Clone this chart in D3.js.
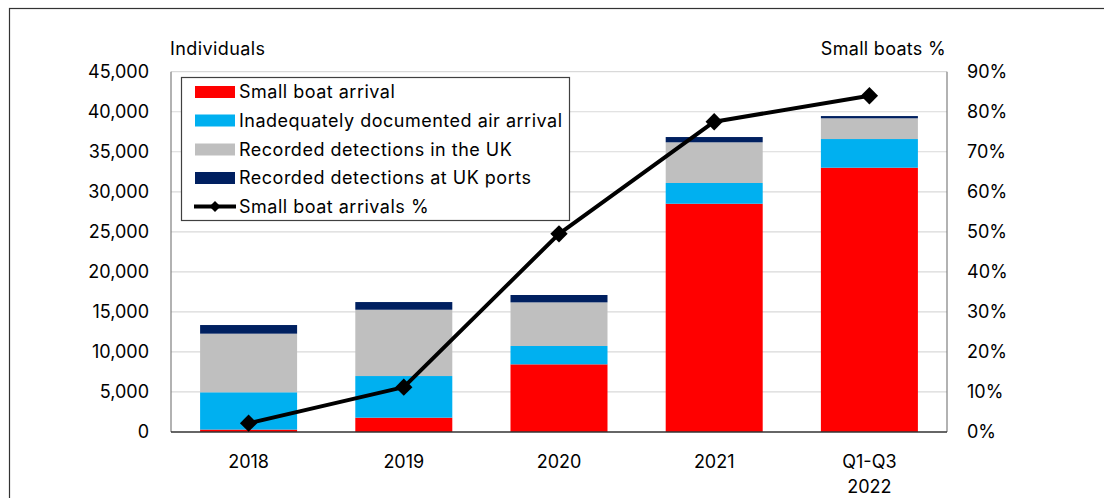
<!DOCTYPE html>
<html><head><meta charset="utf-8">
<script src="https://cdn.jsdelivr.net/npm/d3@7"></script>
<style>
body{margin:0;background:#fff;}
svg text{font-family:Inter,"Liberation Sans",Arial,sans-serif;fill:#000;}
</style></head>
<body>
<svg id="chart" width="1104" height="498"></svg>
<script>
const categories = ["2018","2019","2020","2021","Q1-Q3\n2022"];
const smallBoat = [300, 1790, 8450, 28510, 33010];
const airArrival = [4660, 5200, 2290, 2590, 3580];
const detectionsUK = [7320, 8280, 5450, 5080, 2590];
const detectionsPorts = [1080, 960, 920, 660, 280];
const smallBoatPct = [2.2, 11.2, 49.5, 77.5, 84.0];
const leftTicks = [0,5000,10000,15000,20000,25000,30000,35000,40000,45000];
const rightTicks = [0,10,20,30,40,50,60,70,80,90];
const seriesNames = ["Small boat arrival","Inadequately documented air arrival","Recorded detections in the UK","Recorded detections at UK ports"];
const seriesColors = ["#FF0000","#00B0F0","#BFBFBF","#002060"];

const svg = d3.select("#chart");
const L = 171, R = 947, T = 71.7, B = 432;

// outer frame
svg.append("rect").attr("x",9.5).attr("y",8.5).attr("width",1200).attr("height",600)
  .attr("fill","none").attr("stroke","#333").attr("stroke-width",1.2);

const x = d3.scaleBand().domain(categories).range([L,R]).paddingInner(0.375).paddingOuter(0.1875);
const y = d3.scaleLinear().domain([0,45000]).range([B,T]);
const y2 = d3.scaleLinear().domain([0,90]).range([B,T]);

// gridlines
svg.append("g").selectAll("line").data(leftTicks.slice(1)).join("line")
  .attr("x1",L).attr("x2",R).attr("y1",d=>y(d)).attr("y2",d=>y(d))
  .attr("stroke","#d9d9d9").attr("stroke-width",1.2);

// stacked bars
const rows = categories.map((c,i)=>({cat:c, s0:smallBoat[i], s1:airArrival[i], s2:detectionsUK[i], s3:detectionsPorts[i]}));
const stack = d3.stack().keys(["s0","s1","s2","s3"])(rows);
svg.append("g").selectAll("g").data(stack).join("g")
  .attr("fill",(d,i)=>seriesColors[i])
  .selectAll("rect").data(d=>d).join("rect")
  .attr("x",d=>x(d.data.cat)).attr("width",x.bandwidth())
  .attr("y",d=>y(d[1])).attr("height",d=>y(d[0])-y(d[1]));

// axes lines
svg.append("line").attr("x1",L).attr("x2",L).attr("y1",T).attr("y2",B).attr("stroke","#7f7f7f").attr("stroke-width",1.2);
svg.append("line").attr("x1",R).attr("x2",R).attr("y1",T).attr("y2",B).attr("stroke","#7f7f7f").attr("stroke-width",1.2);
svg.append("line").attr("x1",L).attr("x2",R).attr("y1",B).attr("y2",B).attr("stroke","#333").attr("stroke-width",1.5);

// left axis labels
const fmt = d3.format(",");
svg.append("g").selectAll("text").data(leftTicks).join("text")
  .attr("x",149).attr("y",d=>y(d)).attr("dy","0.36em").attr("text-anchor","end")
  .attr("font-size",18).text(d=>fmt(d));
// right axis labels
svg.append("g").selectAll("text").data(rightTicks).join("text")
  .attr("x",967).attr("y",d=>y2(d)).attr("dy","0.36em").attr("text-anchor","start")
  .attr("font-size",18).text(d=>d+"%");
// x labels
const xl = svg.append("g").selectAll("text").data(categories).join("text")
  .attr("x",d=>x(d)+x.bandwidth()/2).attr("y",468).attr("text-anchor","middle").attr("font-size",18);
xl.each(function(d){
  const parts = d.split("\n");
  d3.select(this).selectAll("tspan").data(parts).join("tspan")
    .attr("x",x(d)+x.bandwidth()/2).attr("dy",(p,i)=>i===0?0:24.5).text(p=>p);
});

svg.append("text").attr("x",170).attr("y",55).attr("font-size",18).attr("letter-spacing",0.4).text("Individuals");
svg.append("text").attr("x",946).attr("y",55).attr("font-size",18).attr("letter-spacing",0.3).attr("text-anchor","end").text("Small boats %");

// line
const line = d3.line().x((d,i)=>x(categories[i])+x.bandwidth()/2).y(d=>y2(d));
svg.append("path").datum(smallBoatPct).attr("d",line).attr("fill","none").attr("stroke","#000").attr("stroke-width",4).attr("stroke-linejoin","round");
svg.append("g").selectAll("path").data(smallBoatPct).join("path")
  .attr("transform",(d,i)=>`translate(${x(categories[i])+x.bandwidth()/2},${y2(d)}) rotate(45)`)
  .attr("d",d3.symbol().type(d3.symbolSquare).size(150)).attr("fill","#000");

// legend
const lg = svg.append("g");
lg.append("rect").attr("x",181.5).attr("y",77.5).attr("width",388).attr("height",143)
  .attr("fill","#fff").attr("stroke","#404040").attr("stroke-width",1.2);
const ly = [92,120.5,149.5,178,206.5];
seriesNames.forEach((n,i)=>{
  lg.append("rect").attr("x",195).attr("y",ly[i]-6).attr("width",40).attr("height",12).attr("fill",seriesColors[i]);
  lg.append("text").attr("x",239).attr("y",ly[i]).attr("dy","0.36em").attr("font-size",18).attr("letter-spacing",0.5).text(n);
});
lg.append("line").attr("x1",194).attr("x2",236).attr("y1",ly[4]).attr("y2",ly[4]).attr("stroke","#000").attr("stroke-width",4);
lg.append("path").attr("transform",`translate(215,${ly[4]}) rotate(45)`).attr("d",d3.symbol().type(d3.symbolSquare).size(60)).attr("fill","#000");
lg.append("text").attr("x",239).attr("y",ly[4]).attr("dy","0.36em").attr("font-size",18).attr("letter-spacing",0.5).text("Small boat arrivals %");
</script>
</body></html>
